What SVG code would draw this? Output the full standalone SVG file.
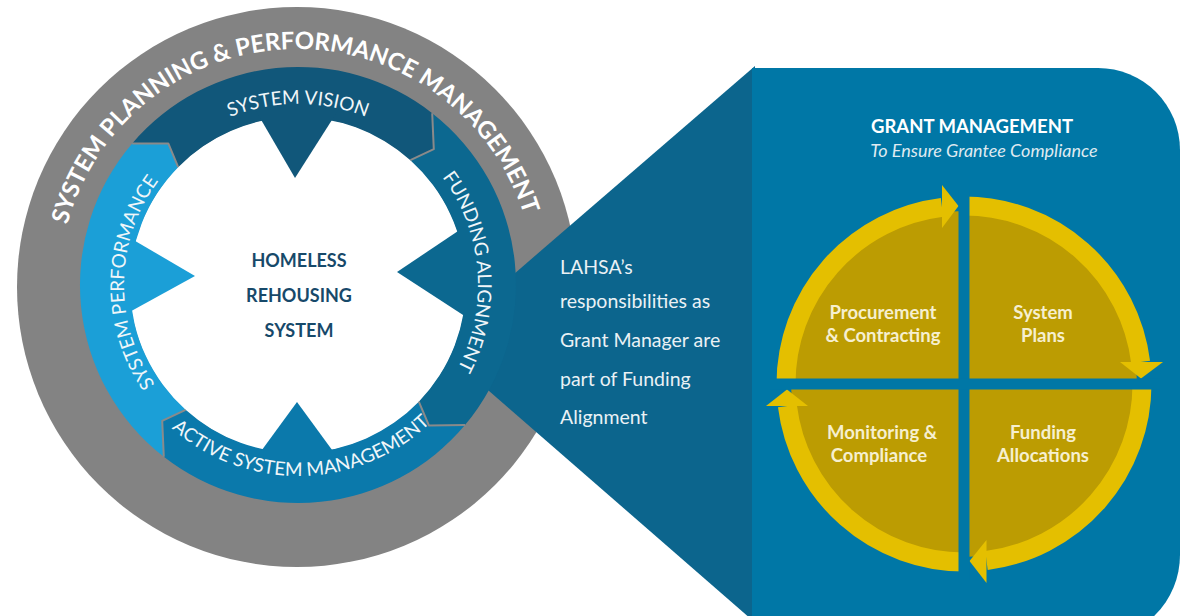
<svg xmlns="http://www.w3.org/2000/svg" width="1182" height="616" viewBox="0 0 1182 616">
<style>
.ring{font-family:Lato,"Open Sans",sans-serif;font-size:19px;fill:#f0f6f9;}
.outer{font-family:Lato,"Open Sans",sans-serif;font-size:24px;font-weight:700;fill:#ffffff;}
.center{font-family:Lato,"Open Sans",sans-serif;font-size:18px;font-weight:700;fill:#17496a;text-anchor:middle;}
.body{font-family:Lato,"Open Sans",sans-serif;font-size:19.5px;fill:#eaf1f5;}
.quad{font-family:Lato,"Open Sans",sans-serif;font-size:18.5px;font-weight:700;fill:#f6efcf;text-anchor:middle;}
.title{font-family:Lato,"Open Sans",sans-serif;font-size:18.5px;font-weight:700;fill:#ffffff;text-anchor:middle;}
.sub{font-family:Lato,"Open Sans",sans-serif;font-size:18px;font-style:italic;fill:#dfeaf1;text-anchor:middle;}
.bound{fill:none;stroke:#8a8a8a;stroke-width:2;stroke-linejoin:round;}
.band{fill:none;stroke:#e4bf00;stroke-width:19;}
.arrow{fill:#e4bf00;}
.olive{fill:#bc9c02;}
.gap{fill:#0077a6;}
</style>
<defs>
<path id="pOuter" d="M59,287 A238,238 0 0 1 535,287"/>
<path id="pSV" d="M141.2,194.5 A181,181 0 0 1 454.8,194.5"/>
<path id="pFA" d="M375.2,122.4 A180,180 0 0 1 400.2,433.2"/>
<path id="pASM" d="M134.6,383.9 A191,191 0 0 0 465.4,377"/>
<path id="pSP" d="M208.4,434.2 A174,174 0 0 1 213.6,132.8"/>
</defs>
<rect width="1182" height="616" fill="#ffffff"/>

<g id="outer-ring">
<circle cx="297" cy="287" r="280" fill="#838383"/>
</g>

<g id="connectors">
<polygon id="callout" points="434,343 755,66 755,616 747.5,616" fill="#0c658d"/>
</g>

<g id="homeless-rehousing-system">
<circle cx="298" cy="285" r="168.5" fill="#ffffff"/>
</g>

<g id="system-vision">
<path d="M132.2,143.4 A218,218 0 0 1 432.2,113.2 L433.8,149.2 L410.4,160.2 A168,168 0 0 0 178.2,167.2 L168.3,143.4 Z" fill="#11577a"/>
<polygon points="255.4,110 338.3,110 295,178" fill="#11577a"/>
<text class="ring"><textPath href="#pSV" startOffset="50%" text-anchor="middle">SYSTEM VISION</textPath></text>
</g>

<g id="funding-alignment">
<path d="M432.2,113.2 A218,218 0 0 1 465,425.1 L428.9,425.4 L418.8,401.7 A168,168 0 0 0 410.4,160.2 L433.8,149.2 Z" fill="#0c6890"/>
<polygon points="470,223 470,319.5 397,272" fill="#0c6890"/>
<text class="ring"><textPath href="#pFA" startOffset="50%" text-anchor="middle">FUNDING ALIGNMENT</textPath></text>
</g>

<g id="active-system-management">
<path d="M465,425.1 A218,218 0 0 1 163.8,456.8 L162.2,420.8 L185.6,409.8 A168,168 0 0 0 418.8,401.7 L428.9,425.4 Z" fill="#0b79ab"/>
<polygon points="254.6,460 339.4,460 297,402" fill="#0b79ab"/>
<text class="ring"><textPath href="#pASM" startOffset="50%" text-anchor="middle">ACTIVE SYSTEM MANAGEMENT</textPath></text>
</g>

<g id="system-performance">
<path d="M163.8,456.8 A218,218 0 0 1 132.2,143.4 L168.3,143.4 L178.2,167.2 A168,168 0 0 0 185.6,409.8 L162.2,420.8 Z" fill="#1b9fd7"/>
<polygon points="125,235 125,314.4 195,276" fill="#1b9fd7"/>
<text class="ring"><textPath href="#pSP" startOffset="50%" text-anchor="middle">SYSTEM PERFORMANCE</textPath></text>
</g>

<g id="segment-borders">
<polyline class="bound" points="432.2,113.2 433.8,149.2 410.4,160.2"/>
<polyline class="bound" points="465,425.1 428.9,425.4 418.8,401.7"/>
<polyline class="bound" points="163.8,456.8 162.2,420.8 185.6,409.8"/>
<polyline class="bound" points="132.2,143.4 168.3,143.4 178.2,167.2"/>
</g>

<g id="outer-label">
<text class="outer"><textPath href="#pOuter" startOffset="49.3%" text-anchor="middle">SYSTEM PLANNING &amp; PERFORMANCE MANAGEMENT</textPath></text>
</g>

<g id="center-label">
<text class="center" x="299" y="267">HOMELESS</text>
<text class="center" x="299" y="302">REHOUSING</text>
<text class="center" x="299" y="337">SYSTEM</text>
</g>

<g id="grant-panel">
<path d="M752,68 H1098 A82,82 0 0 1 1180,150 V555 A85,85 0 0 1 1095,640 H752 Z" fill="#0077a6"/>
<text class="title" x="972" y="133">GRANT MANAGEMENT</text>
<text class="sub" x="984" y="157">To Ensure Grantee Compliance</text>
</g>

<g id="lahsa-note">
<text class="body" x="560" y="274">LAHSA’s</text>
<text class="body" x="560" y="308">responsibilities as</text>
<text class="body" x="560" y="347">Grant Manager are</text>
<text class="body" x="560" y="386">part of Funding</text>
<text class="body" x="560" y="424">Alignment</text>
</g>

<g id="grant-cycle">
<circle class="olive" cx="964" cy="384" r="173"/>
<path class="band" d="M786,384 A178,178 0 0 1 942,207.4"/>
<path class="band" d="M964,206 A178,178 0 0 1 1140.6,362"/>
<path class="band" d="M1142,384 A178,178 0 0 1 986.5,560.5"/>
<path class="band" d="M964,562 A178,178 0 0 1 787.4,406"/>
<polygon class="arrow" points="942,185 958.5,206 942,228"/>
<polygon class="arrow" points="1120,362 1163,362 1141,378.5"/>
<polygon class="arrow" points="986.5,540 986.5,583 969.5,561"/>
<polygon class="arrow" points="766,406 808,406 787,389.5"/>
<rect class="gap" x="958.5" y="190" width="11" height="390"/>
<rect class="gap" x="770" y="378.5" width="390" height="11"/>
</g>

<g id="procurement-contracting">
<text class="quad" x="883" y="319">Procurement</text>
<text class="quad" x="883" y="342">&amp; Contracting</text>
</g>
<g id="system-plans">
<text class="quad" x="1043" y="319">System</text>
<text class="quad" x="1043" y="342">Plans</text>
</g>
<g id="monitoring-compliance">
<text class="quad" x="882" y="439">Monitoring &amp;</text>
<text class="quad" x="879" y="462">Compliance</text>
</g>
<g id="funding-allocations">
<text class="quad" x="1043" y="439">Funding</text>
<text class="quad" x="1043" y="462">Allocations</text>
</g>
</svg>
